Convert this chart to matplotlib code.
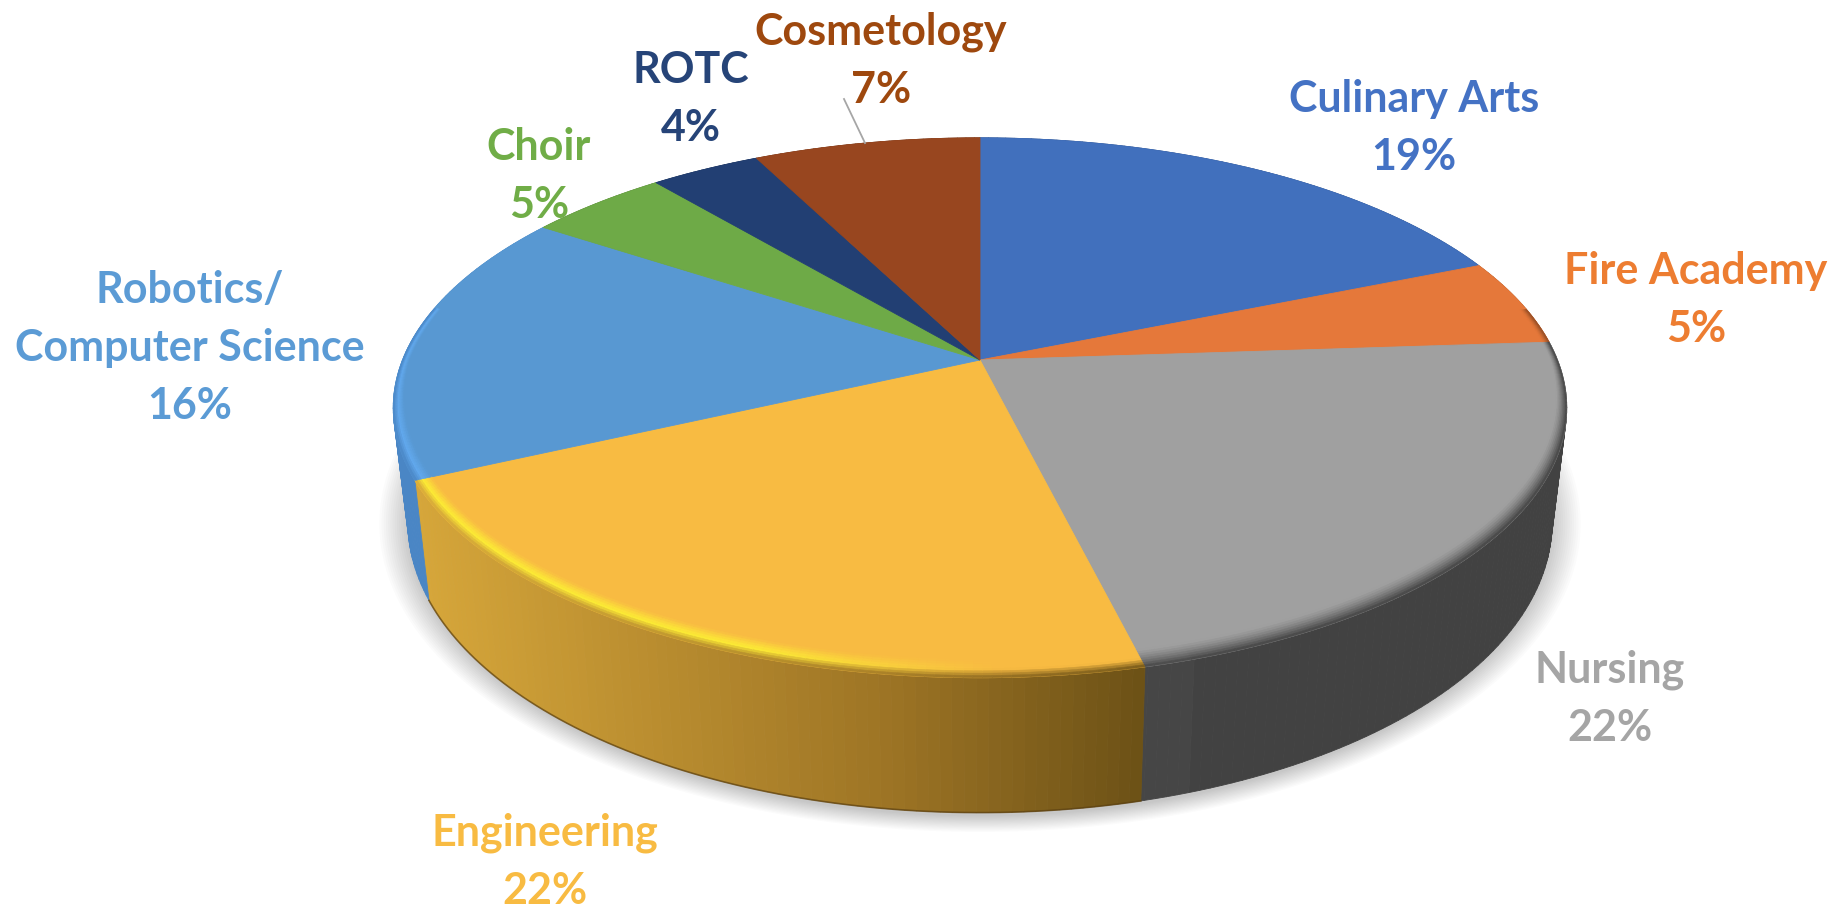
import numpy as np
import matplotlib
matplotlib.use('Agg')
import matplotlib.pyplot as plt
from matplotlib.collections import PolyCollection
from matplotlib.colors import to_rgb

# datos de la grafica (estimados de la imagen, la etiqueta va redondeada)
categorias = ['Culinary Arts', 'Fire Academy', 'Nursing', 'Engineering',
              'Robotics/\nComputer Science', 'Choir', 'ROTC', 'Cosmetology']
valores = [18.7, 5.2, 22.3, 21.8, 16.4, 4.6, 3.6, 7.4]
colores = ['#4170bd', '#e5783a', '#a0a0a0', '#f8bb42', '#5898d2', '#6eaa47', '#223f73', '#98461f']
colores_texto = ['#4472c4', '#ed7d31', '#a5a5a5', '#f8bb42', '#5b9bd5', '#70ad47', '#264478', '#9e480e']
pos_etiquetas = [(1414, 128), (1696, 300), (1610, 699), (545, 862), (190, 348), (539, 176), (691, 99), (881, 61)]

# perspectiva del disco
CX, CY, A, B, K = 980, 360, 577.5, 261.5, 0.177
PROF = 111


def proyectar(ang, r=1.0):
    u = r * np.sin(ang)
    v = -r * np.cos(ang)
    d = 1 - K * v
    return CX + A * u / d, CY + B * v / d


def base(ang):
    x, y = proyectar(ang)
    v = -np.cos(ang)
    return CX + (x - CX) * 0.975, y + PROF / (1 - K * v)


def mezcla(c1, c2, t):
    return tuple((1 - t) * np.array(to_rgb(c1)) + t * np.array(to_rgb(c2)))


def color_lado(i, x):
    if i == 3:
        if x < 880:
            return mezcla('#d6a63a', '#9e7525', (x - 415) / 465)
        return mezcla('#9e7525', '#6c5116', min((x - 880) / 265, 1))
    if i == 2:
        return to_rgb('#464646') if x < 1190 else to_rgb('#424242')
    if i == 4:
        return to_rgb('#4a86c5')
    return mezcla(colores[i], '#000000', 0.35)


fig = plt.figure(figsize=(18.33, 9.08), dpi=100)
ax = fig.add_axes([0, 0, 1, 1])
ax.set_xlim(0, 1833)
ax.set_ylim(908, 0)
ax.axis('off')

limites = np.radians(np.cumsum([0] + valores) * 3.6)

# sombra debajo del disco
t = np.linspace(0, 2 * np.pi, 300)
bx, by = base(t)
for e in np.linspace(1.05, 1.0, 14):
    ax.fill(CX + (bx - CX) * e, 500 + (by - 500) * (e + 0.012), color='#000000', alpha=0.014, lw=0, zorder=1)

# lado del disco
for i in range(len(valores)):
    angs = np.arange(limites[i], limites[i + 1] + 1e-6, np.radians(1.0))
    angs = np.append(angs, limites[i + 1])
    quads, cols = [], []
    for a1, a2 in zip(angs[:-1], angs[1:]):
        x1, y1 = proyectar(a1)
        x2, y2 = proyectar(a2)
        x3, y3 = base(a2)
        x4, y4 = base(a1)
        quads.append([(x1, y1), (x2, y2), (x3, y3), (x4, y4)])
        cols.append(color_lado(i, (x1 + x2) / 2))
    ax.add_collection(PolyCollection(quads, facecolors=cols, edgecolors=cols, linewidths=0.6, zorder=2))
    if i == 3:
        bxx, byy = base(angs)
        ax.plot(bxx, byy, color='#5a3f10', lw=1.2, alpha=0.7, zorder=3)

# cara superior
for i in range(len(valores)):
    angs = np.linspace(limites[i], limites[i + 1], 120)
    x, y = proyectar(angs)
    ax.fill(np.r_[CX, x], np.r_[CY, y], facecolor=colores[i], edgecolor=colores[i], lw=0.6, zorder=4)

# bisel del borde
brillos = {3: '#fdec35', 4: '#62a9ee'}
for i in range(len(valores)):
    angs = np.linspace(limites[i], limites[i + 1], 100)
    quads, cols = [], []
    for a1, a2 in zip(angs[:-1], angs[1:]):
        am = (a1 + a2) / 2
        vm = -np.cos(am)
        if vm < -0.2:
            continue
        ancho = 0.012 + 0.036 * max(vm, 0)
        xm = proyectar(am)[0]
        lado = color_lado(i, xm)
        brillo = brillos.get(i)
        if i == 3:
            f = np.clip((1000 - xm) / 250, 0, 1)
            brillo = mezcla(colores[i], brillo, f)
        for j in range(8):
            r1 = 1 - ancho * (1 - j / 8)
            r2 = 1 - ancho * (1 - (j + 1) / 8)
            s = (j + 0.5) / 8
            if brillo is None:
                c = mezcla(colores[i], lado, s ** 1.5)
            elif s < 0.55:
                c = mezcla(colores[i], brillo, s / 0.55)
            else:
                c = mezcla(brillo, lado, (s - 0.55) / 0.45)
            p1 = proyectar(a1, r1)
            p2 = proyectar(a2, r1)
            p3 = proyectar(a2, r2)
            p4 = proyectar(a1, r2)
            quads.append([p1, p2, p3, p4])
            cols.append(c)
    if quads:
        ax.add_collection(PolyCollection(quads, facecolors=cols, edgecolors=cols, linewidths=0.4, zorder=5))

# linea guia de Cosmetology
ax.plot([844, 865], [99, 143], color='#a6a6a6', lw=1.3, zorder=6)

# etiquetas
for i, nombre in enumerate(categorias):
    x, y = pos_etiquetas[i]
    ax.text(x, y, nombre + '\n' + f'{valores[i]:.0f}%', color=colores_texto[i], ha='center', va='center',
            fontsize=31, fontweight='bold', family=['Lato', 'DejaVu Sans'], linespacing=1.55, zorder=7)

fig.savefig('out.png', dpi=100)
